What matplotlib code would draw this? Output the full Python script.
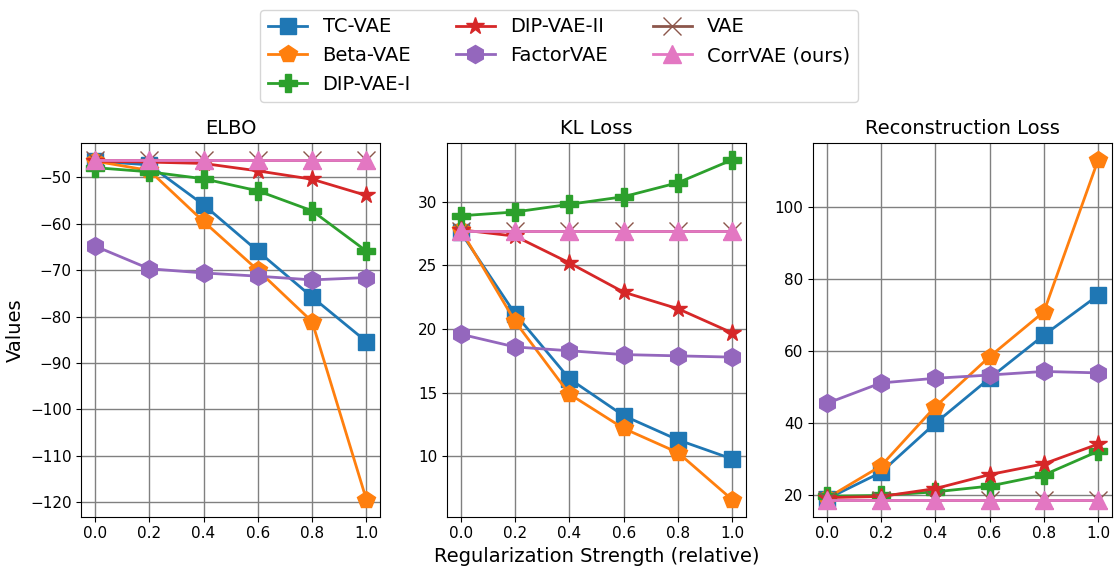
import matplotlib
matplotlib.use("Agg")
import matplotlib.pyplot as plt
import numpy as np

x = [0.0, 0.2, 0.4, 0.6, 0.8, 1.0]
methods = ["TC-VAE", "Beta-VAE", "DIP-VAE-I", "DIP-VAE-II", "FactorVAE", "VAE", "CorrVAE (ours)"]
markers = ["s", "p", "P", "*", "h", "x", "^"]
colors = ["#1f77b4", "#ff7f0e", "#2ca02c", "#d62728", "#9467bd", "#8c564b", "#e377c2"]

elbo = [
    [-46.5, -47.3, -55.9, -65.9, -75.8, -85.4],
    [-46.5, -48.5, -59.5, -70.0, -81.1, -119.5],
    [-47.9, -48.8, -50.3, -52.9, -57.2, -65.9],
    [-46.5, -46.7, -47.0, -48.6, -50.4, -53.9],
    [-64.8, -69.7, -70.6, -71.3, -72.1, -71.6],
    [-46.2, -46.2, -46.2, -46.2, -46.2, -46.2],
    [-46.2, -46.2, -46.2, -46.2, -46.2, -46.2],
]
kl = [
    [27.6, 21.2, 16.1, 13.2, 11.3, 9.8],
    [27.8, 20.6, 14.9, 12.2, 10.3, 6.6],
    [28.9, 29.2, 29.8, 30.4, 31.5, 33.3],
    [27.8, 27.3, 25.2, 22.9, 21.6, 19.7],
    [19.6, 18.6, 18.3, 18.0, 17.9, 17.8],
    [27.7, 27.7, 27.7, 27.7, 27.7, 27.7],
    [27.7, 27.7, 27.7, 27.7, 27.7, 27.7],
]
recon = [
    [18.8, 26.2, 39.9, 52.4, 64.4, 75.5],
    [19.0, 28.0, 44.5, 58.4, 70.9, 113.2],
    [19.6, 19.8, 20.8, 22.4, 25.5, 32.1],
    [19.2, 19.5, 21.7, 25.6, 28.6, 34.1],
    [45.4, 51.1, 52.4, 53.3, 54.3, 53.9],
    [18.6, 18.6, 18.6, 18.6, 18.6, 18.6],
    [18.6, 18.6, 18.6, 18.6, 18.6, 18.6],
]

panels = [("ELBO", elbo), ("KL Loss", kl), ("Reconstruction Loss", recon)]

fig, axes = plt.subplots(1, 3, figsize=(11.14, 5.71), dpi=100)
fig.subplots_adjust(left=0.073, right=0.998, bottom=0.095, top=0.75, wspace=0.225)

for ax, (title, data) in zip(axes, panels):
    for i, name in enumerate(methods):
        ax.plot(x, data[i], marker=markers[i], color=colors[i], label=name,
                linewidth=2, markersize=13 if markers[i] != "s" else 12)
    ax.set_title(title, fontsize=14)
    ax.grid(True, color="gray", linewidth=1)
    ax.tick_params(labelsize=11)
    ax.set_xticks(x)

axes[0].set_ylabel("Values", fontsize=14)
axes[1].set_xlabel("Regularization Strength (relative)", fontsize=14, labelpad=4)

handles, labels = axes[0].get_legend_handles_labels()
fig.legend(handles, labels, loc="upper center", ncol=3, fontsize=14,
           bbox_to_anchor=(0.502, 1.0), columnspacing=2.3, handlelength=2)

fig.savefig("out.png", dpi=100)
